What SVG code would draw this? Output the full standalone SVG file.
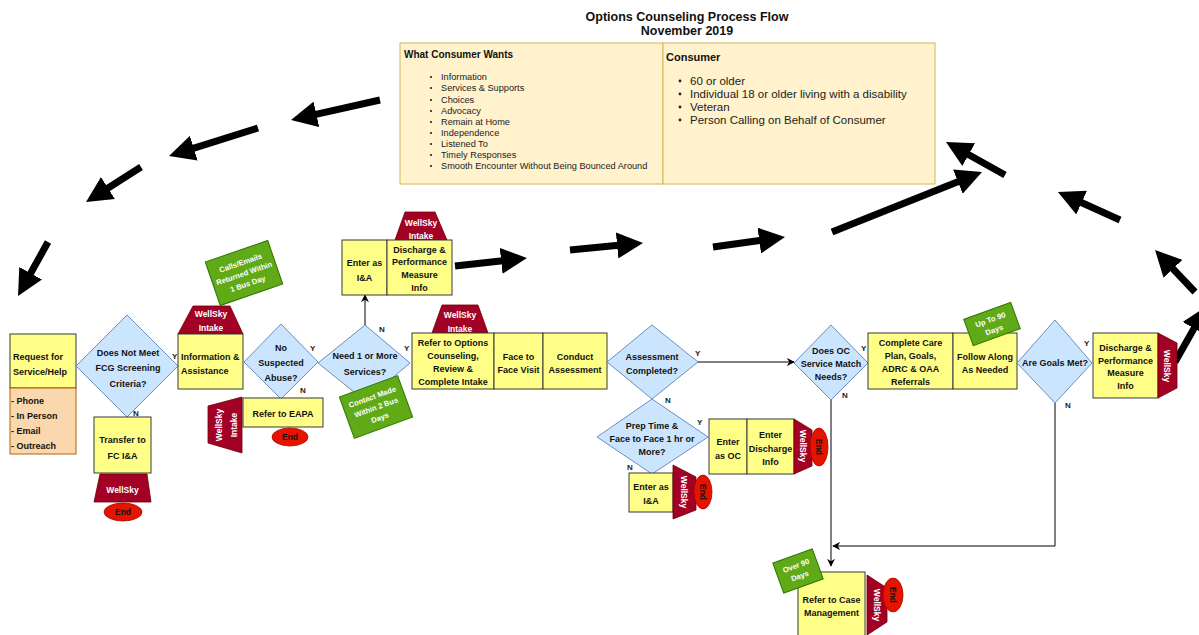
<svg xmlns="http://www.w3.org/2000/svg" width="1199" height="635" viewBox="0 0 1199 635">
<style>
text{font-family:"Liberation Sans",Arial,sans-serif;fill:#111;}
.t{font-size:9px;font-weight:bold;text-anchor:middle;}
.tl{font-size:9px;font-weight:bold;}
.box{fill:#ffff88;stroke:#36393d;stroke-width:1;}
.org{fill:#fad7ac;stroke:#b46504;stroke-width:1;}
.dia{fill:#cce5ff;stroke:#6c8ebf;stroke-width:1;}
.ws{fill:#a20025;stroke:#6f0000;stroke-width:0.8;}
.wst{font-size:8.5px;font-weight:bold;fill:#fff;text-anchor:middle;}
.end{fill:#e51400;stroke:#b20000;stroke-width:0.8;}
.endt{font-size:8.5px;font-weight:bold;fill:#111;text-anchor:middle;}
.grn{fill:#60a917;stroke:#2d7600;stroke-width:1;}
.gt{font-size:7.6px;font-weight:bold;fill:#fff;text-anchor:middle;}
.yn{font-size:8px;font-weight:bold;fill:#222;}
.big{stroke:#000;stroke-width:7;fill:none;marker-end:url(#bigHead);}
.con{stroke:#000;stroke-width:1;fill:none;marker-end:url(#smallHead);}
.li{font-size:9.2px;fill:#222;}
.li2{font-size:11.5px;fill:#222;}
</style>
<defs>
<marker id="bigHead" viewBox="0 0 26 26" markerWidth="26" markerHeight="26" refX="4" refY="13" orient="auto" markerUnits="userSpaceOnUse">
<path d="M0,0 L26,13 L0,26 z" fill="#000"/>
</marker>
<marker id="smallHead" viewBox="0 0 10 10" markerWidth="8" markerHeight="8" refX="9" refY="5" orient="auto" markerUnits="userSpaceOnUse">
<path d="M0,0 L10,5 L0,10 L3,5 z" fill="#000"/>
</marker>
</defs>
<rect width="1199" height="635" fill="#fff"/>

<g id="title">
<text x="687" y="21" font-size="12.5" font-weight="bold" text-anchor="middle">Options Counseling Process Flow</text>
<text x="687" y="35" font-size="12.5" font-weight="bold" text-anchor="middle">November 2019</text>
</g>

<g id="wants">
<rect x="400" y="43" width="263" height="141" fill="#fff2cc" stroke="#d6b656"/>
<text x="404" y="58" font-size="10" font-weight="bold">What Consumer Wants</text>
<g fill="#222">
<circle cx="431" cy="77" r="1.1"/><circle cx="431" cy="88" r="1.1"/><circle cx="431" cy="100" r="1.1"/><circle cx="431" cy="111" r="1.1"/><circle cx="431" cy="122" r="1.1"/><circle cx="431" cy="133" r="1.1"/><circle cx="431" cy="144" r="1.1"/><circle cx="431" cy="155" r="1.1"/><circle cx="431" cy="166" r="1.1"/>
</g>
<text class="li" x="441" y="80">Information</text>
<text class="li" x="441" y="91">Services &amp; Supports</text>
<text class="li" x="441" y="103">Choices</text>
<text class="li" x="441" y="114">Advocacy</text>
<text class="li" x="441" y="125">Remain at Home</text>
<text class="li" x="441" y="136">Independence</text>
<text class="li" x="441" y="147">Listened To</text>
<text class="li" x="441" y="158">Timely Responses</text>
<text class="li" x="441" y="169">Smooth Encounter Without Being Bounced Around</text>
</g>
<g id="consumer">
<rect x="663" y="43" width="272" height="141" fill="#fff2cc" stroke="#d6b656"/>
<text x="666" y="61" font-size="11" font-weight="bold">Consumer</text>
<g fill="#222">
<circle cx="680" cy="81" r="1.4"/><circle cx="680" cy="94" r="1.4"/><circle cx="680" cy="107" r="1.4"/><circle cx="680" cy="120" r="1.4"/>
</g>
<text class="li2" x="690" y="85">60 or older</text>
<text class="li2" x="690" y="98">Individual 18 or older living with a disability</text>
<text class="li2" x="690" y="111">Veteran</text>
<text class="li2" x="690" y="124">Person Calling on Behalf of Consumer</text>
</g>

<g id="big-arrows">
<line class="big" x1="380" y1="100" x2="312.5" y2="115.2"/>
<line class="big" x1="258" y1="128" x2="190" y2="149.4"/>
<line class="big" x1="141" y1="167" x2="104.6" y2="190.2"/>
<line class="big" x1="48" y1="242" x2="28.7" y2="276.8"/>
<line class="big" x1="455" y1="266" x2="505.1" y2="260.4"/>
<line class="big" x1="570" y1="250" x2="621.1" y2="245.1"/>
<line class="big" x1="713" y1="247" x2="763.2" y2="240"/>
<line class="big" x1="832" y1="232" x2="961.6" y2="180.2"/>
<line class="big" x1="1120" y1="220" x2="1078" y2="201"/>
<line class="big" x1="1005" y1="175" x2="965.2" y2="152.7"/>
<line class="big" x1="1195" y1="292" x2="1170.2" y2="265.9"/>
<line class="big" x1="1175" y1="362" x2="1196" y2="325"/>
</g>

<g id="connectors">
<line class="con" x1="365" y1="325" x2="365" y2="295"/>
<line class="con" x1="698" y1="362" x2="794" y2="362"/>
<line class="con" x1="831" y1="400" x2="831" y2="566"/>
<polyline class="con" points="1055,402 1055,546 833,546"/>
</g>

<g id="request">
<rect class="box" x="10" y="334" width="66" height="54"/>
<text class="tl" x="13" y="360">Request for</text>
<text class="tl" x="13" y="375">Service/Help</text>
<rect class="org" x="10" y="388" width="66" height="66"/>
<text class="tl" x="11" y="404">- Phone</text>
<text class="tl" x="11" y="419">- In Person</text>
<text class="tl" x="11" y="434">- Email</text>
<text class="tl" x="11" y="449">- Outreach</text>
</g>

<g id="fcg-diamond">
<polygon class="dia" points="76,366 127,315 178,366 127,417"/>
<text class="t" x="128" y="356">Does Not Meet</text>
<text class="t" x="128" y="371">FCG Screening</text>
<text class="t" x="128" y="387">Criteria?</text>
<text class="yn" x="172" y="359">Y</text>
<text class="yn" x="133" y="416">N</text>
</g>

<g id="transfer">
<rect class="box" x="94" y="417" width="57" height="56"/>
<text class="t" x="122.5" y="443">Transfer to</text>
<text class="t" x="122.5" y="459">FC I&amp;A</text>
<polygon class="ws" points="100,474 147,474 151,502 94,502"/>
<text class="wst" x="122.5" y="493">WellSky</text>
<ellipse class="end" cx="123" cy="512" rx="19" ry="9"/>
<text class="endt" x="123" y="515">End</text>
</g>

<g id="info-assist">
<polygon class="ws" points="193,306 230,306 243,334 178,334"/>
<text class="wst" x="211" y="317">WellSky</text>
<text class="wst" x="211" y="331">Intake</text>
<rect class="box" x="178" y="334" width="65" height="55"/>
<text class="tl" x="181" y="360">Information &amp;</text>
<text class="tl" x="181" y="374">Assistance</text>
</g>

<g id="calls-note">
<g transform="translate(244,273) rotate(-19)">
<rect class="grn" x="-33" y="-23" width="66" height="46"/>
<text class="gt" x="0" y="-8">Calls/Emails</text>
<text class="gt" x="0" y="3">Returned Within</text>
<text class="gt" x="0" y="14">1 Bus Day</text>
</g>
</g>

<g id="abuse-diamond">
<polygon class="dia" points="244,362 281,324 318,362 281,399"/>
<text class="t" x="281" y="351">No</text>
<text class="t" x="281" y="366">Suspected</text>
<text class="t" x="281" y="381">Abuse?</text>
<text class="yn" x="310" y="351">Y</text>
<text class="yn" x="300" y="393">N</text>
</g>

<g id="eapa">
<rect class="box" x="243" y="398" width="80" height="29"/>
<text class="t" x="283" y="417">Refer to EAPA</text>
<polygon class="ws" points="208,406 242,397 242,453 208,443"/>
<text class="wst" transform="translate(222,425) rotate(-90)" x="0" y="0">WellSky</text>
<text class="wst" transform="translate(237,425) rotate(-90)" x="0" y="0">Intake</text>
<ellipse class="end" cx="290" cy="437" rx="18" ry="9"/>
<text class="endt" x="290" y="440">End</text>
</g>

<g id="need-diamond">
<polygon class="dia" points="318,363 365,325 410,363 365,401"/>
<text class="t" x="365" y="359">Need 1 or More</text>
<text class="t" x="365" y="375">Services?</text>
<text class="yn" x="379" y="332">N</text>
<text class="yn" x="404" y="351">Y</text>
</g>

<g id="contact-note">
<g transform="translate(376,407) rotate(-20)">
<rect class="grn" x="-31" y="-22" width="62" height="44"/>
<text class="gt" x="0" y="-8">Contact Made</text>
<text class="gt" x="0" y="3">Within 2 Bus</text>
<text class="gt" x="0" y="14">Days</text>
</g>
</g>

<g id="enter-ia-top">
<polygon class="ws" points="405,212 435,212 447,240 395,240"/>
<text class="wst" x="421" y="226">WellSky</text>
<text class="wst" x="421" y="239">Intake</text>
<rect class="box" x="342" y="240" width="45" height="55"/>
<text class="t" x="364.5" y="266">Enter as</text>
<text class="t" x="364.5" y="281">I&amp;A</text>
<rect class="box" x="387" y="240" width="65" height="55"/>
<text class="t" x="419.5" y="253">Discharge &amp;</text>
<text class="t" x="419.5" y="265">Performance</text>
<text class="t" x="419.5" y="278">Measure</text>
<text class="t" x="419.5" y="291">Info</text>
</g>

<g id="refer-oc">
<polygon class="ws" points="442,305 478,305 488,333 432,333"/>
<text class="wst" x="460" y="318">WellSky</text>
<text class="wst" x="460" y="332">Intake</text>
<rect class="box" x="412" y="333" width="82" height="56"/>
<text class="t" x="453" y="346">Refer to Options</text>
<text class="t" x="453" y="359">Counseling,</text>
<text class="t" x="453" y="372">Review &amp;</text>
<text class="t" x="453" y="385">Complete Intake</text>
<rect class="box" x="494" y="333" width="49" height="56"/>
<text class="t" x="518.5" y="360">Face to</text>
<text class="t" x="518.5" y="373">Face Visit</text>
<rect class="box" x="543" y="333" width="64" height="56"/>
<text class="t" x="575" y="360">Conduct</text>
<text class="t" x="575" y="373">Assessment</text>
</g>

<g id="assess-diamond">
<polygon class="dia" points="607,362 652,325 698,362 652,399"/>
<text class="t" x="652" y="360">Assessment</text>
<text class="t" x="652" y="374">Completed?</text>
<text class="yn" x="695" y="356">Y</text>
<text class="yn" x="665" y="403">N</text>
</g>

<g id="prep-diamond">
<polygon class="dia" points="597,437 652,399 708,437 652,474"/>
<text class="t" x="652" y="429">Prep Time &amp;</text>
<text class="t" x="652" y="442">Face to Face 1 hr or</text>
<text class="t" x="652" y="455">More?</text>
<text class="yn" x="697" y="425">Y</text>
<text class="yn" x="627" y="470">N</text>
</g>

<g id="enter-oc">
<rect class="box" x="709" y="419" width="38" height="55"/>
<text class="t" x="728" y="445">Enter</text>
<text class="t" x="728" y="459">as OC</text>
<rect class="box" x="747" y="419" width="47" height="55"/>
<text class="t" x="770.5" y="438">Enter</text>
<text class="t" x="770.5" y="452">Discharge</text>
<text class="t" x="770.5" y="465">Info</text>
<polygon class="ws" points="794,419 812,430 812,466 794,474"/>
<text class="wst" transform="translate(800,446) rotate(90)" x="0" y="0">WellSky</text>
<ellipse class="end" cx="819" cy="447" rx="9" ry="19"/>
<text class="endt" transform="translate(816,447) rotate(90)" x="0" y="0">End</text>
</g>

<g id="enter-ia-low">
<rect class="box" x="629" y="473" width="44" height="39"/>
<text class="t" x="651" y="490">Enter as</text>
<text class="t" x="651" y="504">I&amp;A</text>
<polygon class="ws" points="673,465 696,477 696,510 673,519"/>
<text class="wst" transform="translate(681,492) rotate(90)" x="0" y="0">WellSky</text>
<ellipse class="end" cx="703" cy="492" rx="9" ry="17"/>
<text class="endt" transform="translate(700,492) rotate(90)" x="0" y="0">End</text>
</g>

<g id="match-diamond">
<polygon class="dia" points="794,363 831,325 868,363 831,400"/>
<text class="t" x="831" y="354">Does OC</text>
<text class="t" x="831" y="367">Service Match</text>
<text class="t" x="831" y="380">Needs?</text>
<text class="yn" x="861" y="351">Y</text>
<text class="yn" x="842" y="398">N</text>
</g>

<g id="care-plan">
<rect class="box" x="868" y="333" width="85" height="56"/>
<text class="t" x="910.5" y="346">Complete Care</text>
<text class="t" x="910.5" y="359">Plan, Goals,</text>
<text class="t" x="910.5" y="372">ADRC &amp; OAA</text>
<text class="t" x="910.5" y="385">Referrals</text>
<rect class="box" x="953" y="333" width="64" height="56"/>
<text class="t" x="985" y="360">Follow Along</text>
<text class="t" x="985" y="373">As Needed</text>
</g>

<g id="upto-note">
<g transform="translate(992,324) rotate(-20)">
<rect class="grn" x="-25" y="-14" width="50" height="28"/>
<text class="gt" x="0" y="-2">Up To 90</text>
<text class="gt" x="0" y="9">Days</text>
</g>
</g>

<g id="goals-diamond">
<polygon class="dia" points="1017,363 1055,320 1092,363 1055,403"/>
<text class="t" x="1055" y="366">Are Goals Met?</text>
<text class="yn" x="1084" y="346">Y</text>
<text class="yn" x="1065" y="408">N</text>
</g>

<g id="discharge-final">
<rect class="box" x="1093" y="333" width="65" height="65"/>
<text class="t" x="1125.5" y="351">Discharge &amp;</text>
<text class="t" x="1125.5" y="364">Performance</text>
<text class="t" x="1125.5" y="376">Measure</text>
<text class="t" x="1125.5" y="389">Info</text>
<polygon class="ws" points="1158,333 1177,343 1177,388 1158,398"/>
<text class="wst" transform="translate(1164,366) rotate(90)" x="0" y="0">WellSky</text>
</g>

<g id="case-mgmt">
<rect class="box" x="798" y="572" width="67" height="66"/>
<text class="t" x="831.5" y="603">Refer to Case</text>
<text class="t" x="831.5" y="616">Management</text>
<polygon class="ws" points="867,575 887,588 887,622 867,635"/>
<text class="wst" transform="translate(874,605) rotate(90)" x="0" y="0">WellSky</text>
<ellipse class="end" cx="893" cy="595" rx="10" ry="17"/>
<text class="endt" transform="translate(890,595) rotate(90)" x="0" y="0">End</text>
</g>

<g id="over-note">
<g transform="translate(798,571) rotate(-20)">
<rect class="grn" x="-21" y="-16" width="42" height="32"/>
<text class="gt" x="0" y="-3">Over 90</text>
<text class="gt" x="0" y="8">Days</text>
</g>
</g>
</svg>
